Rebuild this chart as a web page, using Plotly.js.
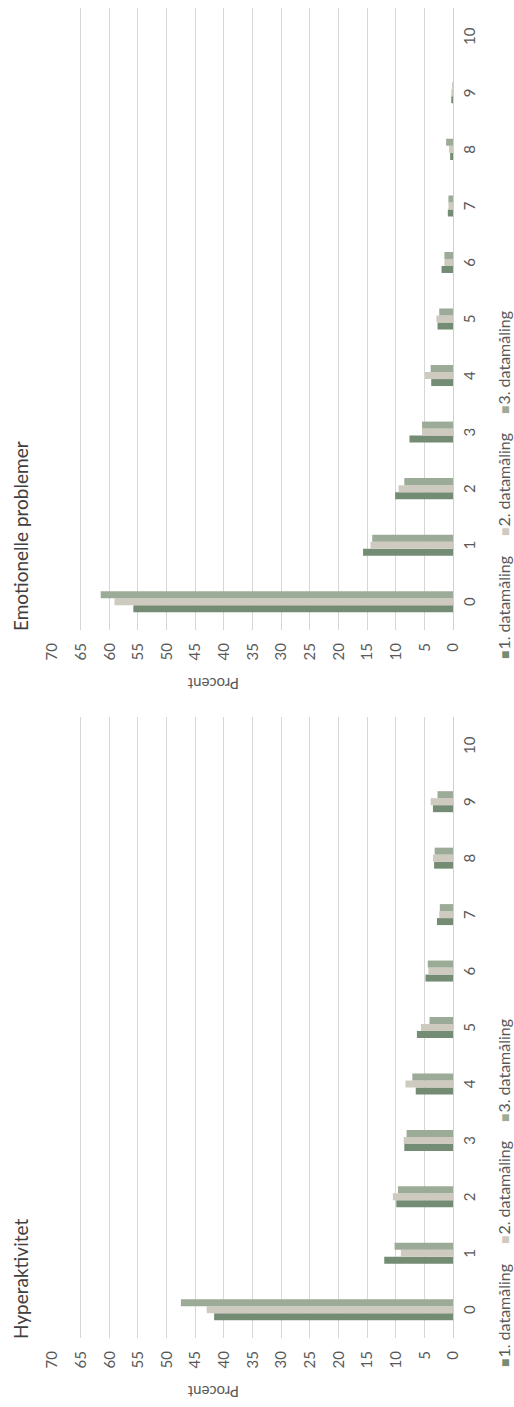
<!DOCTYPE html>
<html>
<head>
<meta charset="utf-8">
<script src="https://cdn.plot.ly/plotly-3.0.1.min.js"></script>
<style>
  html, body { margin: 0; padding: 0; width: 514px; height: 1407px; overflow: hidden; background: #fff; }
  /* The chart is laid out in landscape and turned a quarter turn to fit the tall page */
  #chart {
    position: absolute; left: 0; top: 0;
    width: 1407px; height: 514px;
    transform-origin: 0 0;
    transform: translate(0, 1407px) rotate(-90deg);
  }
</style>
</head>
<body>
<div id="chart"></div>
<script>
// Score on the SDQ sub-scale (0-10)
const scores = [0, 1, 2, 3, 4, 5, 6, 7, 8, 9, 10];
const scoreLabels = ['0', '1', '2', '3', '4', '5', '6', '7', '8', '9', '10'];

const seriesNames = ['1. datamåling', '2. datamåling', '3. datamåling'];
const seriesColors = ['#738c73', '#cfcac0', '#9cab97'];

const panelTitles = ['Hyperaktivitet', 'Emotionelle problemer'];
const yAxisTitle = 'Procent';

// Percent of children per score, Hyperaktivitet
const hyperaktivitet1 = [41.7, 12.0, 9.9, 8.5, 6.5, 6.3, 4.8, 2.8, 3.3, 3.5, 0];
const hyperaktivitet2 = [43.0, 9.1, 10.5, 8.6, 8.3, 5.6, 4.3, 2.4, 3.5, 3.9, 0];
const hyperaktivitet3 = [47.5, 10.2, 9.6, 8.1, 7.1, 4.1, 4.4, 2.3, 3.2, 2.7, 0];

// Percent of children per score, Emotionelle problemer
const emotionelle1 = [55.8, 15.7, 10.1, 7.6, 3.8, 2.7, 2.0, 0.9, 0.5, 0.3, 0];
const emotionelle2 = [59.1, 14.4, 9.5, 5.4, 4.9, 2.9, 1.5, 0.8, 0.7, 0.3, 0];
const emotionelle3 = [61.5, 14.1, 8.5, 5.4, 3.9, 2.4, 1.5, 0.8, 1.2, 0.1, 0];

const panels = [
  { series: [hyperaktivitet1, hyperaktivitet2, hyperaktivitet3], xa: 'x', ya: 'y' },
  { series: [emotionelle1, emotionelle2, emotionelle3], xa: 'x2', ya: 'y2' }
];

const W = 1407, H = 514;
const px = v => v / W;          // horizontal pixel -> paper
const py = v => (H - v) / H;    // vertical pixel (from top) -> paper

const traces = [];
panels.forEach(p => {
  p.series.forEach((vals, i) => {
    traces.push({
      type: 'bar',
      x: scores,
      y: vals,
      name: seriesNames[i],
      marker: { color: seriesColors[i] },
      xaxis: p.xa,
      yaxis: p.ya,
      showlegend: false,
      hoverinfo: 'x+y+name'
    });
  });
});

const textColor = '#595959';
const font = 'Lato, "Open Sans", sans-serif';

function xAxis(domain, anchor) {
  return {
    domain: domain, anchor: anchor,
    range: [-0.5, 10.5],
    tickvals: scores, ticktext: scoreLabels,
    showgrid: false, zeroline: false, showline: false,
    ticks: '', ticklabelstandoff: 6,
    tickfont: { size: 15, color: textColor, family: font },
    fixedrange: true
  };
}
function yAxis(anchor) {
  return {
    domain: [py(453), py(52)], anchor: anchor,
    range: [0, 70], dtick: 5, tick0: 0,
    showgrid: true, gridcolor: '#d6d6d6', gridwidth: 1,
    zeroline: true, zerolinecolor: '#cfcfcf', zerolinewidth: 1,
    showline: false, ticks: '', ticklabelstandoff: 12,
    tickfont: { size: 15, color: textColor, family: font },
    fixedrange: true
  };
}

// Left and right edges of each plot area, in pixels
const panelLeft = [69, 777];
const panelRight = [690, 1399];

const annotations = [];
panelLeft.forEach((left, k) => {
  const off = left - panelLeft[0];
  annotations.push({
    xref: 'paper', yref: 'paper', x: px(left - 3), y: py(21),
    xanchor: 'left', yanchor: 'middle', showarrow: false,
    text: panelTitles[k],
    font: { size: 19, color: '#404040', family: font }
  });
  annotations.push({
    xref: 'paper', yref: 'paper', x: px(15 + off), y: py(213),
    xanchor: 'center', yanchor: 'middle', showarrow: false,
    textangle: -90, text: yAxisTitle,
    font: { size: 15, color: textColor, family: font }
  });
  const legendX = [38, 161, 283];
  seriesNames.forEach((nm, i) => {
    annotations.push({
      xref: 'paper', yref: 'paper', x: px(legendX[i] + off), y: py(503),
      xanchor: 'left', yanchor: 'middle', showarrow: false,
      text: '<span style="color:' + seriesColors[i] + ';font-size:14px">■</span>\u200A' + nm,
      font: { size: 16, color: textColor, family: font }
    });
  });
});

const layout = {
  width: W, height: H,
  margin: { l: 0, r: 0, t: 0, b: 0, pad: 0 },
  paper_bgcolor: '#ffffff', plot_bgcolor: '#ffffff',
  barmode: 'group', bargap: 0.628, bargroupgap: 0,
  font: { family: font, color: textColor },
  xaxis: xAxis([px(panelLeft[0]), px(panelRight[0])], 'y'),
  yaxis: yAxis('x'),
  xaxis2: xAxis([px(panelLeft[1]), px(panelRight[1])], 'y2'),
  yaxis2: yAxis('x2'),
  annotations: annotations,
  showlegend: false
};

Plotly.newPlot('chart', traces, layout, { displayModeBar: false, staticPlot: true });
</script>
</body>
</html>
